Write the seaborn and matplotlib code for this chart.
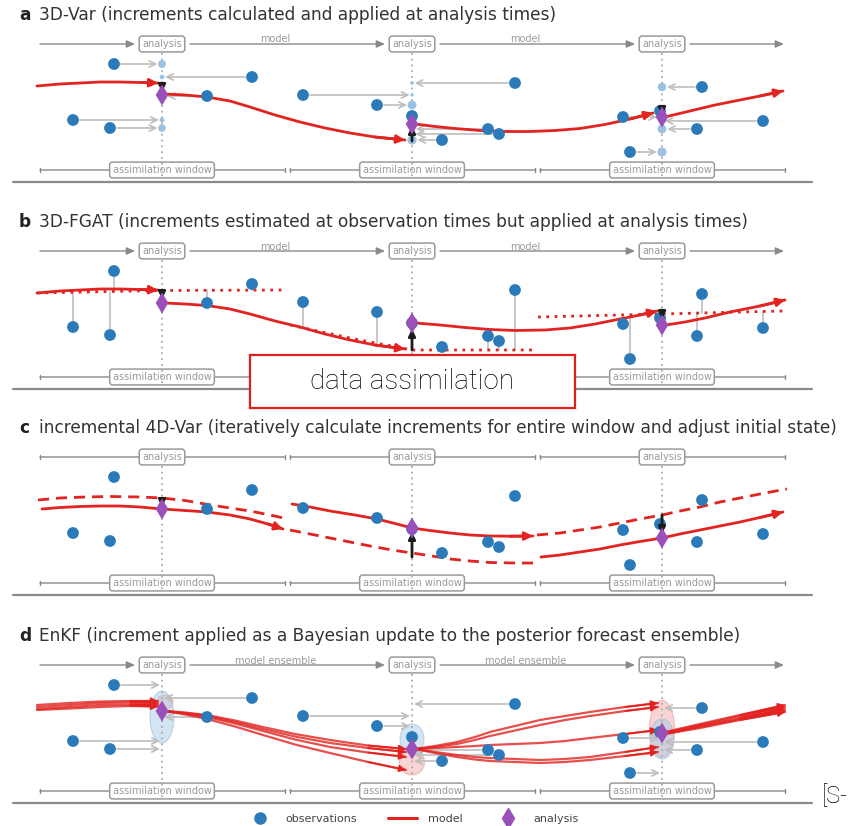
import numpy as np
import pandas as pd
import matplotlib
matplotlib.use("Agg")
import matplotlib.pyplot as plt
import seaborn as sns
from matplotlib.patches import Ellipse
from matplotlib.lines import Line2D

sns.set_style("white")
plt.rcParams["font.family"] = ["DejaVu Sans"]

# ---------------------------------------------------------------- data
# time axis runs left to right, state axis is drawn downward (inverted)
analysis_times = [162, 412, 662]
window_edges = [(40, 285), (290, 535), (540, 785)]

obs_time = [73, 110, 114, 207, 252, 303, 377, 412, 442, 488, 499, 515,
            623, 630, 660, 697, 702, 763]
obs_value = [120, 128, 64, 96, 77, 95, 105, 116, 140, 129, 134, 83,
             117, 152, 111, 129, 87, 121]

panel_letters = ["a", "b", "c", "d"]
panel_titles = [
    "3D-Var (increments calculated and applied at analysis times)",
    "3D-FGAT (increments estimated at observation times but applied at analysis times)",
    "incremental 4D-Var (iteratively calculate increments for entire window and adjust initial state)",
    "EnKF (increment applied as a Bayesian update to the posterior forecast ensemble)",
]

# (a) 3D-Var
a_model_t = [[37, 60, 80, 100, 120, 140, 158],
             [165, 185, 207, 230, 250, 275, 300, 325, 350, 375, 405],
             [415, 435, 455, 480, 505, 530, 555, 580, 605, 630, 653],
             [665, 690, 715, 740, 760, 783]]
a_model_y = [[86, 84, 83, 82, 82, 82.5, 83],
             [94, 95, 97, 101, 107, 115, 122, 128, 133, 137, 140],
             [124, 126.5, 128.5, 130.5, 131.5, 131.5, 130.5, 128.5, 124.5, 119, 113],
             [117, 111, 105, 100, 96, 91]]
a_inc_from = [83, 141, 109]
a_inc_to = [92, 126, 115]
a_analysis = [95, 124, 117]

# (b) 3D-FGAT
b_model_t = [[37, 60, 80, 100, 120, 140, 158],
             [165, 185, 207, 230, 250, 275, 300, 325, 350, 375, 405],
             [416, 440, 465, 490, 515, 545, 570, 595, 620, 640, 657],
             [666, 685, 705, 730, 760, 785]]
b_model_y = [[86, 84, 83, 82, 82, 82.5, 83],
             [96, 97, 98.5, 102, 107, 114, 120, 127, 133, 138, 142],
             [116, 118, 120.5, 122.5, 123.5, 123, 121, 117, 112, 108, 104],
             [118, 115, 111, 105, 99, 93]]
b_background_t = [[37, 160, 285], [290, 350, 412, 535], [538, 783]]
b_background_y = [[86, 83.5, 83], [118, 131, 143, 143], [110, 104]]
b_inc_from = [83, 143, 103]
b_inc_to = [92, 122, 112]
b_analysis = [96, 116, 118]

# (c) incremental 4D-Var
c_first_guess_t = [[38, 60, 85, 110, 140, 162, 185, 205, 230, 250, 270, 288],
                   [290, 310, 330, 350, 370, 392, 412, 432, 450, 470, 490, 515, 537],
                   [537, 560, 580, 600, 620, 640, 662, 680, 700, 720, 740, 765, 787]]
c_first_guess_y = [[87, 85, 84, 83.5, 84, 85, 87.5, 91, 95, 98, 102, 106],
                   [117, 121, 125, 129, 133, 137, 140, 143, 146, 148, 149.5, 150, 150],
                   [122, 120, 117, 114, 110, 106, 102, 98, 94, 89, 85, 80, 76]]
c_model_t = [[42, 60, 80, 100, 120, 140, 162, 185, 207, 230, 250, 268, 283],
             [292, 310, 330, 355, 377, 395, 412, 430, 450, 470, 490, 510, 533],
             [541, 560, 580, 600, 620, 640, 662, 680, 700, 720, 740, 760, 783]]
c_model_y = [[96, 94.5, 93.5, 93, 93, 94, 96, 97.5, 99, 102, 106, 111, 116],
             [91, 94, 98, 102, 106, 110.5, 115, 117.5, 120, 122, 123, 123.2, 123],
             [144, 142, 139, 136, 132, 128.5, 125, 121, 117, 113, 109, 104.5, 99]]
c_inc_from = [86, 144, 102]
c_inc_to = [94, 119, 121]
c_analysis = [96, 115, 125]

# (d) EnKF ensemble members, one block per forecast leg
d_leg_t = [[37, 70, 100, 130, 158],
           [165, 185, 207, 235, 263, 295, 330, 368, 406],
           [415, 435, 457, 475, 490, 515, 540, 565, 590, 625, 658],
           [665, 700, 740, 785]]
d_leg_members = [
    [[84, 82, 80.5, 80, 80], [86, 84, 82, 81.5, 82],
     [88, 86, 84, 83.5, 84], [89, 87.5, 86, 85, 85.5]],
    [[90, 91.5, 94, 99.5, 106, 113, 119, 124.5, 128],
     [90, 92, 95, 101, 108, 115.5, 122, 127, 131],
     [90, 92.5, 96, 102.5, 110, 118.5, 126, 131.5, 136],
     [90, 93.5, 98, 105.5, 114, 123.5, 132, 141, 149]],
    [[128, 125, 121, 116, 111, 105, 99, 95, 91, 86, 82],
     [128, 126, 123, 119, 115, 109.5, 104, 99, 95, 90, 86],
     [128, 127, 126, 125, 124, 123, 122, 120, 117, 113, 109],
     [128, 131, 134, 136, 137, 138, 139, 138, 136, 131, 126],
     [128, 132, 136, 138.5, 140, 141, 142, 141, 139, 135, 131]],
    [[111, 103, 94, 84], [112, 104, 95, 86], [112, 105, 97, 88],
     [113, 106, 98, 90], [113, 107, 99, 91]],
]
d_analysis = [90, 128, 112]
d_prior_centre = [81, 141, 108]
d_prior_spread = [14, 26, 57]
d_post_centre = [96, 118, 118]
d_post_spread = [52, 30, 40]

legend_labels = ["observations", "model", "analysis"]

# ---------------------------------------------------------------- style
OBS = "#2b7bba"
PROJ = "#9cc2e3"
RED = "#e2231f"
PURPLE = "#9b4fb8"
BLACK = "#1c1c1c"
GREY = "#8a8a8a"
LIGHT = "#bdbdbd"
TEXT = "#333333"

W, H = 851, 826
PANEL_H = 207
panel_tops = [0, 207, 413, 621]

fig = plt.figure(figsize=(W / 100, H / 100), dpi=100)
fig.patch.set_facecolor("white")


def window_of(t):
    for i, (lo, hi) in enumerate(window_edges):
        if lo - 3 <= t <= hi + 3:
            return i
    return 0


def arrow(ax, xy_from, xy_to, color, lw, style="-|>", scale=10, sa=0, sb=0, z=4):
    ax.annotate("", xy=xy_to, xytext=xy_from,
                arrowprops=dict(arrowstyle=style, color=color, lw=lw,
                                mutation_scale=scale, shrinkA=sa, shrinkB=sb),
                zorder=z)


def model_line(ax, t, y, lw=2.0, ls="-", head=True, alpha=1.0, z=4, scale=12):
    sns.lineplot(x=t, y=y, ax=ax, color=RED, lw=lw, linestyle=ls,
                 estimator=None, sort=False, legend=False, alpha=alpha, zorder=z)
    if head:
        arrow(ax, (t[-2], y[-2]), (t[-1], y[-1]), RED, lw, scale=scale, z=z)


def frame(ax, idx, top_labels, hidden_windows=()):
    ax.text(19, 15, panel_letters[idx], fontsize=12.25, fontweight="bold",
            va="center", color="#222222")
    ax.text(39, 15, panel_titles[idx], fontsize=12.25, va="center", color=TEXT)
    ax.plot([13, 812], [182, 182], color=GREY, lw=1.6, zorder=1)
    box = dict(boxstyle="round,pad=0.3", fc="white", ec="#9a9a9a", lw=1.1)
    for k, ((lo, hi), ta) in enumerate(zip(window_edges, analysis_times)):
        arrow(ax, (lo, 170), (hi, 170), GREY, 1.0,
              style="|-|,widthA=0.15,widthB=0.15", z=1)
        if k not in hidden_windows:
            ax.text(ta, 170, "assimilation window", ha="center", va="center",
                    fontsize=7, color="#9a9a9a", bbox=box, zorder=2)
        ax.plot([ta, ta], [53, 180], color="#aaaaaa", lw=1.3,
                linestyle=(0, (1, 2.2)), zorder=3)
    if top_labels is None:
        for (lo, hi), ta in zip(window_edges, analysis_times):
            arrow(ax, (lo, 44), (hi, 44), GREY, 1.0,
                  style="|-|,widthA=0.15,widthB=0.15", z=1)
    else:
        segs = [(40, 135), (190, 385), (440, 635), (690, 784)]
        for lo, hi in segs:
            arrow(ax, (lo, 44), (hi, 44), GREY, 1.0,
                  style="-|>,head_length=0.5,head_width=0.22", z=1)
        for (lo, hi) in segs[1:3]:
            ax.text((lo + hi) / 2 - 12, 44.5, top_labels, ha="center",
                    va="bottom", fontsize=7, color="#9a9a9a")
    for ta in analysis_times:
        ax.text(ta, 44, "analysis", ha="center", va="center", fontsize=7,
                color="#9a9a9a", bbox=box, zorder=2)


def observations(ax):
    sns.scatterplot(x=obs_time, y=obs_value, ax=ax, color=OBS, s=72,
                    edgecolor="none", legend=False, zorder=6)


def obs_to_analysis(ax, with_dots):
    for t, v in zip(obs_time, obs_value):
        ta = analysis_times[window_of(t)]
        dt = abs(t - ta)
        if dt < 5:
            continue
        d_px = max(3.0, 11.5 - 0.075 * dt)
        if with_dots:
            sns.scatterplot(x=[ta], y=[v], ax=ax, color=PROJ, s=(d_px * 0.72) ** 2,
                            edgecolor="none", legend=False, zorder=5)
        arrow(ax, (t, v), (ta, v), LIGHT, 1.2,
              style="->,head_length=0.45,head_width=0.22",
              sa=5, sb=(d_px * 0.36 + 0.5) if with_dots else 1.5, z=3)


def analyses(ax, inc_from, inc_to, ana):
    for ta, f, e in zip(analysis_times, inc_from, inc_to):
        arrow(ax, (ta, f), (ta, e), BLACK, 2.0, scale=10, z=8)
    sns.scatterplot(x=analysis_times, y=ana, ax=ax, marker="d", s=115,
                    color=PURPLE, edgecolor="none", legend=False, zorder=9)


axes = []
for i, top in enumerate(panel_tops):
    ax = fig.add_axes([0, (H - top - PANEL_H) / H, 1, PANEL_H / H])
    ax.set_xlim(0, W)
    ax.set_ylim(PANEL_H, 0)
    ax.axis("off")
    axes.append(ax)

# ---- (a) 3D-Var
ax = axes[0]
frame(ax, 0, "model")
obs_to_analysis(ax, with_dots=True)
observations(ax)
for t, y in zip(a_model_t, a_model_y):
    model_line(ax, t, y)
analyses(ax, a_inc_from, a_inc_to, a_analysis)

# ---- (b) 3D-FGAT (middle window label sits under the callout box)
ax = axes[1]
frame(ax, 1, "model", hidden_windows=(1,))
for t, y in zip(b_background_t, b_background_y):
    sns.lineplot(x=t, y=y, ax=ax, color=RED, lw=2.0, linestyle=(0, (1, 2)),
                 estimator=None, sort=False, legend=False, zorder=3)
for t, v in zip(obs_time, obs_value):
    w = window_of(t)
    ref = np.interp(t, b_background_t[w], b_background_y[w])
    ax.plot([t, t], [v, ref], color="#c4c4c4", lw=1.3, zorder=2)
observations(ax)
for t, y in zip(b_model_t, b_model_y):
    model_line(ax, t, y)
analyses(ax, b_inc_from, b_inc_to, b_analysis)

# ---- (c) incremental 4D-Var
ax = axes[2]
frame(ax, 2, None)
observations(ax)
for t, y in zip(c_first_guess_t, c_first_guess_y):
    model_line(ax, t, y, ls=(0, (4, 2.5)), head=False)
for t, y in zip(c_model_t, c_model_y):
    model_line(ax, t, y)
analyses(ax, c_inc_from, c_inc_to, c_analysis)

# ---- (d) EnKF
ax = axes[3]
frame(ax, 3, "model ensemble")
for ta, c, s in zip(analysis_times, d_prior_centre, d_prior_spread):
    ax.add_patch(Ellipse((ta + (3 if s < 20 else 0), c), 16 if s < 20 else 25, s,
                         fc="#f2a0a0", ec="#e08080", alpha=0.45, lw=0.8, zorder=2))
for ta, c, s in zip(analysis_times, d_post_centre, d_post_spread):
    ax.add_patch(Ellipse((ta, c), 24, s, fc="#a9cbe6", ec="#88b4d8",
                         alpha=0.5, lw=0.8, zorder=2))
obs_to_analysis(ax, with_dots=False)
observations(ax)
rows = []
for leg, (t, members) in enumerate(zip(d_leg_t, d_leg_members)):
    for m, y in enumerate(members):
        rows += [dict(t=tt, y=yy, member=f"{leg}-{m}") for tt, yy in zip(t, y)]
ens = pd.DataFrame(rows)
sns.lineplot(data=ens, x="t", y="y", units="member", estimator=None,
             sort=False, color=RED, lw=1.6, alpha=0.8, legend=False, ax=ax,
             zorder=4)
for t, members in zip(d_leg_t, d_leg_members):
    for y in members:
        arrow(ax, (t[-2], y[-2]), (t[-1], y[-1]), RED, 1.2, scale=10, z=4)
analyses(ax, [np.nan] * 3, [np.nan] * 3, d_analysis)

# ---- legend
handles = [
    Line2D([], [], marker="o", ls="none", color=OBS, markersize=8),
    Line2D([], [], color=RED, lw=2.2),
    Line2D([], [], marker="d", ls="none", color=PURPLE, markersize=10),
]
fig.legend(handles, legend_labels, loc="center", bbox_to_anchor=(412 / W, 1 - 819 / H),
           ncol=3, frameon=False, fontsize=8, handlelength=2.6,
           handletextpad=1.0, columnspacing=2.8, labelcolor="#444444")

# ---- callout box
cb = fig.add_axes([250 / W, 1 - 408 / H, 325 / W, 53 / H])
cb.set_xticks([])
cb.set_yticks([])
cb.set_facecolor("white")
for sp in cb.spines.values():
    sp.set_color("#e0201f")
    sp.set_linewidth(1.6)
cb.text(0.5, 0.5, "data assimilation", ha="center", va="center",
        fontsize=20, family="Roboto", fontweight="light", color="#000000",
        transform=cb.transAxes)

fig.text(822 / W, 1 - 796 / H, "[S-", fontsize=17, family="Roboto",
         fontweight="light", va="center", ha="left", color="#000000")

fig.savefig("out.png", dpi=100, facecolor="white")
